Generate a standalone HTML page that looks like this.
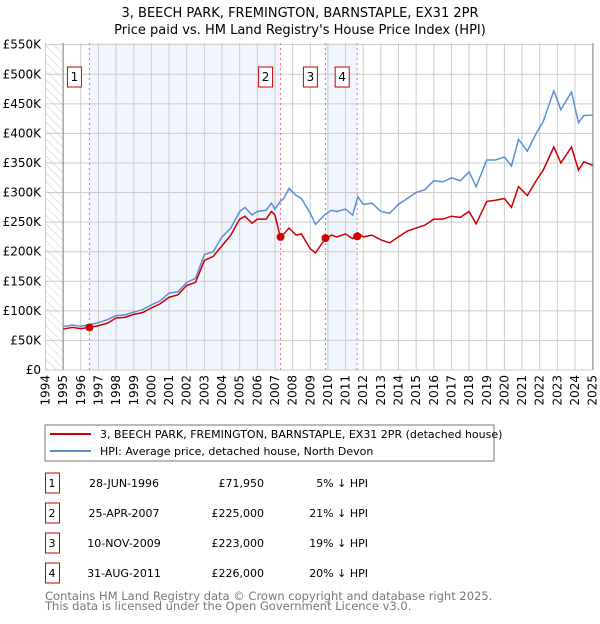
<!DOCTYPE html>
<html><head><meta charset="utf-8"><style>
body{margin:0;background:#fff;font-family:"DejaVu Sans","Liberation Sans",sans-serif;}
svg text{font-family:"DejaVu Sans","Liberation Sans",sans-serif;}
</style></head><body>
<svg id="c" width="600" height="620" xmlns="http://www.w3.org/2000/svg">
<defs><pattern id="h" width="6" height="6" patternUnits="userSpaceOnUse" patternTransform="rotate(-45)"><line x1="0" y1="0" x2="0" y2="6" stroke="#ccc" stroke-width="1"/></pattern></defs>
<text x="300" y="17" text-anchor="middle" font-size="13">3, BEECH PARK, FREMINGTON, BARNSTAPLE, EX31 2PR</text>
<text x="300" y="34" text-anchor="middle" font-size="13">Price paid vs. HM Land Registry's House Price Index (HPI)</text>
<g id="plot"></g>
<rect x="45" y="425" width="449" height="36" fill="none" stroke="#777"/>
<line x1="50" y1="434" x2="91" y2="434" stroke="#cc0000" stroke-width="2"/>
<text x="100" y="438" font-size="11">3, BEECH PARK, FREMINGTON, BARNSTAPLE, EX31 2PR (detached house)</text>
<line x1="50" y1="451" x2="91" y2="451" stroke="#5b8fd4" stroke-width="2"/>
<text x="100" y="455" font-size="11">HPI: Average price, detached house, North Devon</text>
<g id="tbl"></g>
<text x="45" y="600" font-size="11.5" fill="#777">Contains HM Land Registry data © Crown copyright and database right 2025.</text>
<text x="45" y="610" font-size="11.5" fill="#777">This data is licensed under the Open Government Licence v3.0.</text>
</svg>
<script>
const dates=[1995,1995.5,1996,1996.5,1997,1997.5,1998,1998.5,1999,1999.5,2000,2000.5,2001,2001.5,2002,2002.5,2003,2003.5,2004,2004.5,2005,2005.3,2005.7,2006,2006.5,2006.8,2007,2007.3,2007.5,2007.8,2008.2,2008.5,2009,2009.3,2009.8,2010.2,2010.5,2011,2011.4,2011.7,2012,2012.5,2013,2013.5,2014,2014.5,2015,2015.5,2016,2016.5,2017,2017.5,2018,2018.4,2019,2019.5,2020,2020.4,2020.8,2021.3,2021.8,2022.2,2022.8,2023.2,2023.8,2024.2,2024.5,2025];
const hpi=[73,76,74,77,80,85,92,93,98,102,110,117,130,132,148,155,195,200,225,240,268,275,262,268,270,282,272,285,290,307,295,290,265,246,262,270,268,272,262,293,280,282,268,265,280,290,300,305,320,318,325,320,335,310,355,355,360,345,390,370,400,420,472,440,470,418,430,431];
const price=[69,72,70,72,75,79,88,89,94,97,105,112,123,127,143,148,185,192,210,228,255,260,248,255,255,268,262,225,230,240,228,230,205,198,220,228,225,230,222,232,225,228,220,215,225,235,240,245,255,255,260,258,268,247,285,287,290,275,310,295,320,338,377,350,377,338,352,346];
const saleT=[1996.49,2007.32,2009.86,2011.66];
const saleV=[71.95,225,223,226];
const saleLbl=["1","2","3","4"];
const saleDate=["28-JUN-1996","25-APR-2007","10-NOV-2009","31-AUG-2011"];
const salePrice=["£71,950","£225,000","£223,000","£226,000"];
const salePct=["5% ↓ HPI","21% ↓ HPI","19% ↓ HPI","20% ↓ HPI"];
const yTicks=[0,50,100,150,200,250,300,350,400,450,500,550];
const yTickLbl=["£0","£50K","£100K","£150K","£200K","£250K","£300K","£350K","£400K","£450K","£500K","£550K"];
const X=t=>45.5+(t-1994)*17.65, Y=v=>370-v*0.5915;
const NS="http://www.w3.org/2000/svg", g=document.getElementById('plot');
function mk(tag,at,par){const e=document.createElementNS(NS,tag);for(const k in at)e.setAttribute(k,at[k]);(par||g).appendChild(e);return e;}
let e;
e=mk('rect',{x:45,y:43,width:18,height:327,fill:'url(#h)'});


e=mk('rect',{x:X(saleT[0]),y:43,width:X(saleT[1])-X(saleT[0]),height:327,fill:'#eef3fc',opacity:0.8});


e=mk('rect',{x:X(saleT[2]),y:43,width:X(saleT[3])-X(saleT[2]),height:327,fill:'#eef3fc',opacity:0.8});


for(let yr=1994;yr<=2025;yr++){
 e=mk('line',{x1:X(yr),x2:X(yr),y1:43,y2:370,stroke:'#ccc'});
 
 
 e=mk('text',{x:0,y:0,'font-size':12,'text-anchor':'end',transform:`translate(${X(yr)+4},375) rotate(-90)`});
 e.textContent=yr;
 
 
}
yTicks.forEach((v,i)=>{
 e=mk('line',{x1:45,x2:593,y1:Y(v),y2:Y(v),stroke:'#ccc'});
 
 
 e=mk('text',{x:41,y:Y(v)+4,'font-size':12,'text-anchor':'end'});
 e.textContent=yTickLbl[i];
 
 
});
e=mk('line',{x1:X(1995),x2:X(1995),y1:43,y2:370,stroke:'#888'});


e=mk('line',{x1:593,x2:593,y1:43,y2:370,stroke:'#888'});


saleT.forEach((t,i)=>{
 e=mk('line',{x1:X(t),x2:X(t),y1:43,y2:370,stroke:'#f07070','stroke-dasharray':'2,3'});
 
 
 e=mk('rect',{x:X(t)-22,y:67,width:14,height:20,fill:'#fff',stroke:'#c00'});
 
 
 e=mk('text',{x:X(t)-15,y:81,'font-size':12,'text-anchor':'middle'});
 e.textContent=saleLbl[i];
 
 
});
e=mk('polyline',{points:dates.map((t,i)=>X(t)+','+Y(hpi[i])).join(' '),fill:'none',stroke:'#5b8fd4','stroke-width':1.5});


e=mk('polyline',{points:dates.map((t,i)=>X(t)+','+Y(price[i])).join(' '),fill:'none',stroke:'#cc0000','stroke-width':1.5});


saleT.forEach((t,i)=>{
 e=mk('circle',{cx:X(t),cy:Y(saleV[i]),r:4,fill:'#cc0000'});
 
 
});
const tb=document.getElementById('tbl');
saleT.forEach((t,i)=>{
 const y=483+i*30;
 e=mk('rect',{x:45.5,y:y-10,width:14,height:20,fill:'none',stroke:'#c00'},tb);
 
 
 e=mk('text',{x:52,y:y+4,'font-size':11,'text-anchor':'middle'},tb);
 e.textContent=saleLbl[i];
 
 
 e=mk('text',{x:124,y:y+4,'font-size':11,'text-anchor':'middle'},tb);
 e.textContent=saleDate[i];
 
 
 e=mk('text',{x:264,y:y+4,'font-size':11,'text-anchor':'end'},tb);
 e.textContent=salePrice[i];
 
 
 e=mk('text',{x:368,y:y+4,'font-size':11,'text-anchor':'end'},tb);
 e.textContent=salePct[i];
 
 
});
</script>
</body></html>
